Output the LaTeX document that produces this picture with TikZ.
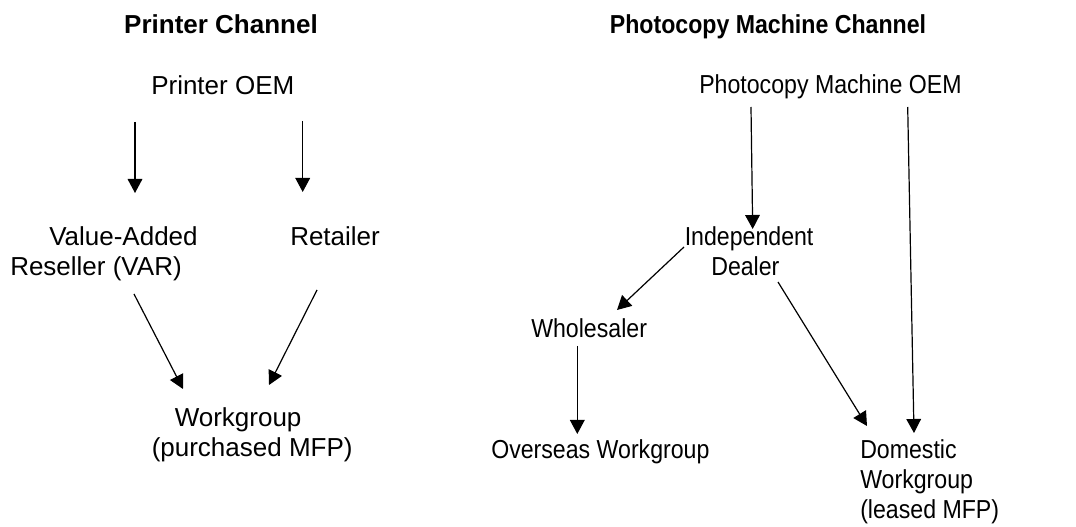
\documentclass[tikz,border=0pt]{standalone}
\usepackage{fontspec}
\setmainfont{Liberation Sans}
\newfontfamily\narrowsans[FakeStretch=0.89]{Liberation Sans}
\usetikzlibrary{arrows.meta}
\begin{document}
\begin{tikzpicture}[x=0.75pt,y=-0.75pt,
  lbl/.style={inner sep=0pt, anchor=base west, font=\fontsize{19.5}{22.5}\selectfont, align=left},
  nlbl/.style={lbl, font=\narrowsans\fontsize{19.5}{22.5}\selectfont},
  ttl/.style={inner sep=0pt, anchor=base, font=\bfseries\fontsize{19.5}{22.5}\selectfont},
  nttl/.style={ttl, font=\narrowsans\bfseries\fontsize{19.5}{22.5}\selectfont},
  arr/.style={line width=0.9pt, -{Triangle[length=10.5pt,width=11pt]}}]
\path[use as bounding box] (0,0) rectangle (1076,527);

% titles
\node[ttl] (t1) at (221,34) {Printer Channel};
\node[nttl] (t2) at (768,34) {Photocopy Machine Channel};

% printer channel
\node[lbl] (oem) at (151,95) {Printer OEM};
\node[lbl] (var) at (10,276) {\hspace*{29.25pt}Value-Added\\Reseller (VAR)};
\node[lbl] (ret) at (290,246) {Retailer};
\node[lbl] (wg) at (151.5,457) {\hspace*{17.25pt}Workgroup\\(purchased MFP)};

% photocopy channel
\node[nlbl] (poem) at (699,94) {Photocopy Machine OEM};
\node[nlbl] (ind) at (684.5,276) {Independent\\\hspace*{19.9pt}Dealer};
\node[nlbl] (whl) at (531,338) {Wholesaler};
\node[nlbl] (ovs) at (491,459) {Overseas Workgroup};
\node[nlbl] (dom) at (860,518) {Domestic\\Workgroup\\(leased MFP)};

% connector ends
\coordinate (oem-a) at (135,122);   \coordinate (var-n) at (135,193);
\coordinate (oem-b) at (302.7,121); \coordinate (ret-n) at (302.7,192);
\coordinate (var-s) at (134,294);   \coordinate (wg-a) at (183,389);
\coordinate (ret-s) at (317,290);   \coordinate (wg-b) at (269,385);
\coordinate (poem-a) at (751,107);  \coordinate (ind-n) at (752.7,229);
\coordinate (poem-b) at (907.7,107);\coordinate (dom-a) at (914,433);
\coordinate (ind-w) at (684,247);   \coordinate (whl-n) at (617,310);
\coordinate (ind-s) at (778,282);   \coordinate (dom-b) at (867,426);
\coordinate (whl-s) at (577.3,346); \coordinate (ovs-n) at (577.3,434);

\draw[arr] (oem-a) -- (var-n);
\draw[arr] (oem-b) -- (ret-n);
\draw[arr] (var-s) -- (wg-a);
\draw[arr] (ret-s) -- (wg-b);
\draw[arr] (poem-a) -- (ind-n);
\draw[arr] (poem-b) -- (dom-a);
\draw[arr] (ind-w) -- (whl-n);
\draw[arr] (ind-s) -- (dom-b);
\draw[arr] (whl-s) -- (ovs-n);
\end{tikzpicture}
\end{document}
